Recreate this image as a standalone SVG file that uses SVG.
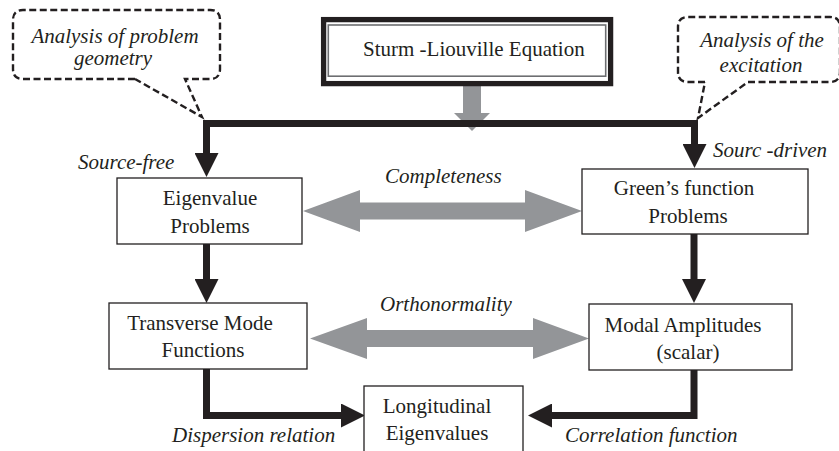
<svg xmlns="http://www.w3.org/2000/svg" width="839" height="451" viewBox="0 0 839 451">
<style>
.box{fill:#fff;stroke:#231f20;stroke-width:1.3}
.t{font-size:21px;fill:#231f20}
.c{text-anchor:middle}
.i{font-style:italic}
.conn{fill:none;stroke:#231f20;stroke-width:7;stroke-linejoin:miter}
.gray{fill:#939598}
.dash{fill:none;stroke:#231f20;stroke-width:2.4;stroke-dasharray:7 3.5}
</style>
<defs>
<marker id="ah" viewBox="0 0 24 24" markerWidth="24" markerHeight="24" refX="0" refY="12" orient="auto-start-reverse" markerUnits="userSpaceOnUse">
<path d="M0,0 L24,12 L0,24 Z" fill="#231f20"/>
</marker>
</defs>
<g font-family="'Liberation Serif', 'Times New Roman', 'DejaVu Serif', serif">
<g id="callout-geometry">
<path class="dash" d="M135,79 L23,79 Q13,79 13,69 L13,20 Q13,10 23,10 L210,10 Q220,10 220,20 L220,69 Q220,79 210,79 L185,79 L202,117 L135,79"/>
<text class="t i c" x="115" y="43">Analysis of problem</text>
<text class="t i c" x="113" y="65">geometry</text>
</g>
<g id="callout-excitation">
<path class="dash" d="M705,82 L688,82 Q678,82 678,72 L678,27 Q678,17 688,17 L830,17 Q840,17 840,27 L840,72 Q840,82 830,82 L748,82 L698,118 L705,82"/>
<text class="t i c" x="762" y="47">Analysis of the</text>
<text class="t i c" x="761" y="72">excitation</text>
</g>
<g id="connectors">
<polygon class="gray" points="463,86 481,86 481,113 490,113 472,131 454,113 463,113"/>
<path class="conn" d="M206.5,153 L206.5,123.5 L694.5,123.5 L694.5,144" marker-start="url(#ah)" marker-end="url(#ah)"/>
<path class="conn" d="M206.5,244 L206.5,279" marker-end="url(#ah)"/>
<path class="conn" d="M694,234 L694,279" marker-end="url(#ah)"/>
<path class="conn" d="M206.5,369 L206.5,415.5 L341,415.5" marker-end="url(#ah)"/>
<path class="conn" d="M694,370 L694,415.5 L552,415.5" marker-end="url(#ah)"/>
<polygon class="gray" points="303,211 360,190 360,202.5 525,202.5 525,190 582,211 525,232 525,219.5 360,219.5 360,232"/>
<polygon class="gray" points="310,338.5 367,318 367,330 533,330 533,318 589,338.5 533,359 533,347 367,347 367,359"/>
<text class="t i" x="78" y="169">Source-free</text>
<text class="t i" x="713" y="157">Sourc -driven</text>
<text class="t i" x="385" y="183">Completeness</text>
<text class="t i" x="380" y="311">Orthonormality</text>
<text class="t i" x="172" y="442">Dispersion relation</text>
<text class="t i" x="565" y="442">Correlation function</text>
</g>
<g id="sturm-liouville">
<rect x="323.6" y="19.6" width="287" height="64" fill="#fff" stroke="#231f20" stroke-width="5.3"/>
<rect x="328.3" y="25" width="277.4" height="51.2" fill="none" stroke="#6d6e71" stroke-width="1.6"/>
<text class="t" x="363" y="56">Sturm -Liouville Equation</text>
</g>
<g id="eigenvalue-problems">
<rect class="box" x="117" y="178" width="185" height="66"/>
<text class="t c" x="210" y="205">Eigenvalue</text>
<text class="t c" x="210" y="233">Problems</text>
</g>
<g id="greens-function-problems">
<rect class="box" x="582" y="169" width="226" height="65"/>
<text class="t c" x="684" y="195">Green’s function</text>
<text class="t c" x="688" y="223">Problems</text>
</g>
<g id="transverse-mode-functions">
<rect class="box" x="109" y="303" width="198" height="66"/>
<text class="t c" x="200" y="330">Transverse Mode</text>
<text class="t c" x="203" y="357">Functions</text>
</g>
<g id="modal-amplitudes">
<rect class="box" x="589" y="304" width="203" height="66"/>
<text class="t c" x="683" y="332">Modal Amplitudes</text>
<text class="t c" x="688" y="359">(scalar)</text>
</g>
<g id="longitudinal-eigenvalues">
<rect class="box" x="364" y="386" width="159" height="80"/>
<text class="t c" x="437" y="413">Longitudinal</text>
<text class="t c" x="437" y="440">Eigenvalues</text>
</g>
</g>
</svg>
